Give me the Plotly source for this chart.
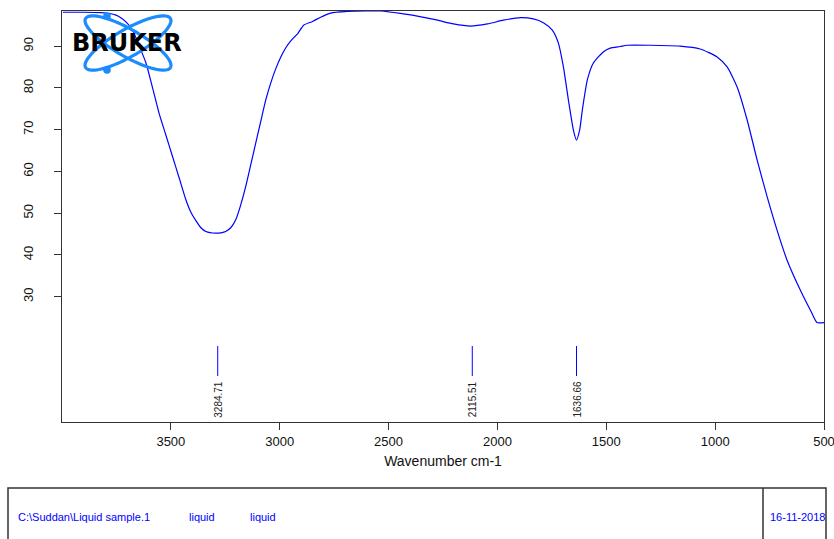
import numpy as np
import plotly.graph_objects as go

# ---- data ----
wavenumber = [3996, 3900, 3821, 3780, 3752, 3730, 3706, 3676, 3645, 3614, 3584, 3554,
              3523, 3492, 3461, 3431, 3408, 3385, 3362, 3339, 3294, 3270, 3248, 3225,
              3202, 3179, 3156, 3133, 3110, 3087, 3064, 3041, 3018, 2995, 2972, 2950,
              2930, 2917, 2890, 2849, 2812, 2766, 2688, 2600, 2537, 2431, 2350, 2275,
              2202, 2124, 2046, 1972, 1894, 1835, 1789, 1748, 1720, 1697, 1674, 1651,
              1637, 1622, 1610, 1587, 1560, 1514, 1482, 1436, 1404, 1300, 1161, 1069,
              991, 945, 899, 853, 807, 761, 716, 670, 610, 560, 532, 500]
transmittance = [98.1, 98.1, 98.0, 97.8, 97.4, 96.8, 95.8, 93.8, 90.0, 85.9, 80.0, 73.9,
                 68.7, 63.5, 58.3, 53.2, 50.2, 48.2, 46.5, 45.6, 45.2, 45.3, 45.6, 46.5,
                 48.4, 52.0, 56.4, 61.6, 66.8, 72.0, 77.1, 81.2, 84.6, 87.4, 89.6, 91.2,
                 92.3, 93.0, 95.0, 95.9, 96.9, 97.9, 98.3, 98.4, 98.4, 97.7, 97.0, 96.2,
                 95.3, 94.8, 95.3, 96.2, 96.8, 96.5, 95.6, 93.8, 90.7, 85.0, 77.1, 69.9,
                 67.5, 70.0, 74.7, 81.9, 85.9, 88.6, 89.5, 89.9, 90.2, 90.2, 90.0, 89.3,
                 87.4, 85.0, 80.2, 72.3, 62.7, 53.9, 46.0, 38.8, 31.7, 26.5, 23.8, 23.8]
peak_positions = [3284.71, 2115.51, 1636.66]
peak_labels = ["3284.71", "2115.51", "1636.66"]
x_ticks = [3500, 3000, 2500, 2000, 1500, 1000, 500]
y_ticks = [30, 40, 50, 60, 70, 80, 90]
footer_items = ["C:\\Suddan\\Liquid sample.1", "liquid", "liquid"]
footer_date = "16-11-2018"

W, H = 834, 539
ML, MR, MT, MB = 62, 10, 11, 117
PW, PH = W - ML - MR, H - MT - MB


def px2paper(px, py):
    return (px - ML) / PW, (H - MB - py) / PH


BLUE = "#0000ff"
LOGO = "#1a8cff"
FONT = "Liberation Sans, Arial, sans-serif"

fig = go.Figure()
fig.add_trace(go.Scatter(x=wavenumber, y=transmittance, mode="lines",
                         line=dict(color=BLUE, width=1.2, shape="spline", smoothing=0.6),
                         hoverinfo="x+y", showlegend=False))

shapes = []
annotations = []

# peak markers
for pos, lab in zip(peak_positions, peak_labels):
    y0 = px2paper(0, 376)[1]
    y1 = px2paper(0, 346)[1]
    shapes.append(dict(type="line", xref="x", yref="paper", x0=pos, x1=pos, y0=y0, y1=y1,
                       line=dict(color=BLUE, width=1)))
    annotations.append(dict(x=pos, xref="x", y=px2paper(0, 399)[1], yref="paper",
                            text=lab, textangle=-90, showarrow=False,
                            xanchor="center", yanchor="middle",
                            font=dict(family=FONT, size=10, color="#222222")))

# Bruker logo (two crossing ellipses + dots + text)
cx, cy, a, b = 128, 43, 49, 13.5
t = np.linspace(0, 2 * np.pi, 90)
for ang in (30, -30):
    r = np.deg2rad(ang)
    ux, uy = np.cos(r), np.sin(r)
    vx, vy = -np.sin(r), np.cos(r)
    xs = cx + a * np.cos(t) * ux + b * np.sin(t) * vx
    ys = cy + a * np.cos(t) * uy + b * np.sin(t) * vy
    pts = [px2paper(x, y) for x, y in zip(xs, ys)]
    path = "M " + " L ".join(f"{p[0]:.5f},{p[1]:.5f}" for p in pts) + " Z"
    shapes.append(dict(type="path", xref="paper", yref="paper", path=path,
                       line=dict(color=LOGO, width=3.2), layer="above"))
for dx, dy in ((107, 16), (107, 70)):
    x0, y0 = px2paper(dx - 3.8, dy + 3.8)
    x1, y1 = px2paper(dx + 3.8, dy - 3.8)
    shapes.append(dict(type="circle", xref="paper", yref="paper", x0=x0, y0=y0, x1=x1, y1=y1,
                       fillcolor=LOGO, line=dict(color=LOGO, width=0), layer="above"))
lx, ly = px2paper(127, 43)
annotations.append(dict(x=lx, y=ly, xref="paper", yref="paper", text="<b>BRUKER</b>",
                        showarrow=False, xanchor="center", yanchor="middle",
                        font=dict(family="DejaVu Sans, sans-serif", size=24, color="#000000")))

# footer box
bx0, by0 = px2paper(8, 488)
bx1, by1 = px2paper(826, 560)
shapes.append(dict(type="rect", xref="paper", yref="paper", x0=bx0, y0=by0, x1=bx1, y1=by1,
                   line=dict(color="#333333", width=1.5)))
dvx, _ = px2paper(763, 0)
shapes.append(dict(type="line", xref="paper", yref="paper", x0=dvx, x1=dvx, y0=by0, y1=by1,
                   line=dict(color="#333333", width=1.5)))
footer_x = [16, 187, 248]
fy = px2paper(0, 517)[1]
for fx, txt in zip(footer_x, footer_items):
    annotations.append(dict(x=px2paper(fx, 0)[0], y=fy, xref="paper", yref="paper", text=txt,
                            showarrow=False, xanchor="left", yanchor="middle",
                            font=dict(family=FONT, size=11, color=BLUE)))
annotations.append(dict(x=px2paper(768, 0)[0], y=fy, xref="paper", yref="paper", text=footer_date,
                        showarrow=False, xanchor="left", yanchor="middle",
                        font=dict(family=FONT, size=11, color=BLUE)))

fig.update_layout(
    width=W, height=H,
    margin=dict(l=ML, r=MR, t=MT, b=MB, pad=0),
    paper_bgcolor="white", plot_bgcolor="white",
    shapes=shapes, annotations=annotations,
    showlegend=False,
    xaxis=dict(range=[4000, 500], tickvals=x_ticks, ticktext=[str(v) for v in x_ticks],
               showgrid=False, zeroline=False, showline=True, mirror=True,
               linecolor="#333333", linewidth=1, ticks="outside", ticklen=7,
               tickcolor="#333333", ticklabeloverflow="allow",
               tickfont=dict(family=FONT, size=13, color="#111111"),
               title=dict(text="Wavenumber cm-1", font=dict(family=FONT, size=14, color="#111111"),
                          standoff=8),
               automargin=False),
    yaxis=dict(range=[0, 98.4], tickvals=y_ticks, ticktext=[str(v) for v in y_ticks],
               showgrid=False, zeroline=False, showline=True, mirror=True,
               linecolor="#333333", linewidth=1, ticks="outside", ticklen=7,
               tickcolor="#333333", tickangle=-90, ticklabelstandoff=16,
               tickfont=dict(family=FONT, size=13, color="#111111"),
               automargin=False),
)

fig.write_html("out.html")
